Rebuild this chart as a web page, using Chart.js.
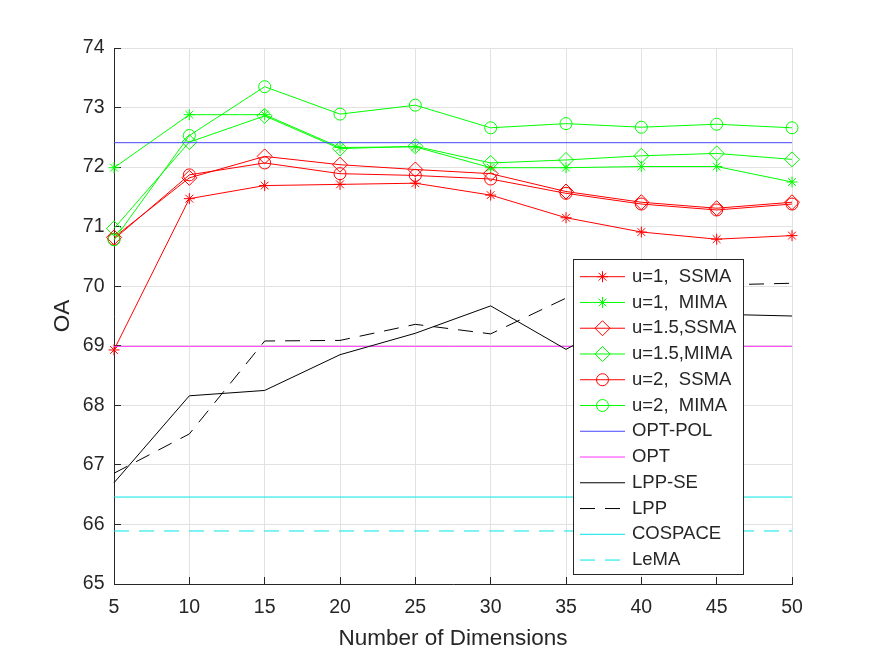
<!DOCTYPE html>
<html>
<head>
<meta charset="utf-8">
<title>OA vs Number of Dimensions</title>
<script src="https://cdn.jsdelivr.net/npm/chart.js@4.4.1/dist/chart.umd.min.js"></script>
<style>
    body { margin: 0; background: white; }
    canvas { display: block; }
</style>
</head>
<body>
<canvas id="oaChart" width="875" height="657"></canvas>
<script>
// values
const dims = [5, 10, 15, 20, 25, 30, 35, 40, 45, 50]

const u1Ssma  = [68.93, 71.47, 71.69, 71.71, 71.73, 71.53, 71.15, 70.91, 70.79, 70.85]
const u1Mima  = [71.99, 72.88, 72.88, 72.33, 72.34, 71.99, 71.99, 72.01, 72.01, 71.75]
const u15Ssma = [70.82, 71.82, 72.18, 72.04, 71.96, 71.89, 71.59, 71.41, 71.31, 71.41]
const u15Mima = [70.97, 72.42, 72.86, 72.31, 72.35, 72.07, 72.12, 72.19, 72.23, 72.13]
const u2Ssma  = [70.79, 71.87, 72.07, 71.89, 71.86, 71.80, 71.56, 71.38, 71.28, 71.38]
const u2Mima  = [70.78, 72.53, 73.35, 72.89, 73.04, 72.66, 72.73, 72.67, 72.72, 72.66]
const optPol  = [72.41, 72.41, 72.41, 72.41, 72.41, 72.41, 72.41, 72.41, 72.41, 72.41]
const opt     = [68.99, 68.99, 68.99, 68.99, 68.99, 68.99, 68.99, 68.99, 68.99, 68.99]
const lppSe   = [66.70, 68.16, 68.25, 68.85, 69.21, 69.67, 68.94, 69.62, 69.53, 69.50]
const lpp     = [66.86, 67.52, 69.08, 69.09, 69.36, 69.20, 69.80, 69.96, 70.02, 70.05]
const cospace = [66.46, 66.46, 66.46, 66.46, 66.46, 66.46, 66.46, 66.46, 66.46, 66.46]
const lema    = [65.89, 65.89, 65.89, 65.89, 65.89, 65.89, 65.89, 65.89, 65.89, 65.89]

const yMin = 65
const yMax = 74

window.addEventListener("load", (event) => {

    var ctx = document.getElementById('oaChart')

    const axisColor = '#262626'
    const gridColor = '#e2e2e2'
    Chart.defaults.font.family = '"Liberation Sans", Arial, Helvetica, sans-serif'
    Chart.defaults.color = axisColor

    const toPoints = (vals) => vals.map((v, i) => ({ x: dims[i], y: v }))

    function series(label, vals, color, marker, radius, dash) {
        return {
            label: label,
            data: toPoints(vals),
            borderColor: color,
            borderWidth: 1,
            borderDash: dash || [],
            pointStyle: marker || 'circle',
            pointRadius: radius || 0,
            pointBorderColor: color,
            pointBackgroundColor: 'rgba(0, 0, 0, 0)',
            pointBorderWidth: 1,
            fill: false,
            tension: 0,
            clip: false
        }
    }

    const datasets = [
        series('u=1,  SSMA', u1Ssma, '#ff0000', 'star', 5.5),
        series('u=1,  MIMA', u1Mima, '#00ff00', 'star', 5.5),
        series('u=1.5,SSMA', u15Ssma, '#ff0000', 'rectRot', 7.5),
        series('u=1.5,MIMA', u15Mima, '#00ff00', 'rectRot', 7.5),
        series('u=2,  SSMA', u2Ssma, '#ff0000', 'circle', 6),
        series('u=2,  MIMA', u2Mima, '#00ff00', 'circle', 6),
        series('OPT-POL', optPol, '#4646ff'),
        series('OPT', opt, '#ff33ff'),
        series('LPP-SE', lppSe, '#000000'),
        series('LPP', lpp, '#000000', null, 0, [15, 10]),
        series('COSPACE', cospace, '#00e5e5'),
        series('LeMA', lema, '#00e5e5', null, 0, [15, 10])
    ]
    // later entries drawn on top, like the original plot
    datasets.forEach((ds, i) => { ds.order = datasets.length - i })

    //Legend box drawn over the lines
    const legendLayout = { left: 573, top: 259, width: 170, height: 315, firstRow: 276.7, rowStep: 25.76, lineX1: 580, lineX2: 625, textX: 632 }

    const boxedLegend = {
        id: 'boxedLegend',
        afterDatasetsDraw(chart) {
            const c = chart.ctx
            const L = legendLayout
            c.save()
            c.fillStyle = 'white'
            c.fillRect(L.left, L.top, L.width, L.height)
            c.strokeStyle = axisColor
            c.lineWidth = 1
            c.strokeRect(L.left + 0.5, L.top + 0.5, L.width, L.height)
            datasets.forEach((ds, i) => {
                const y = L.firstRow + i * L.rowStep
                c.strokeStyle = ds.borderColor
                c.lineWidth = 1
                c.setLineDash(ds.borderDash)
                c.beginPath()
                c.moveTo(L.lineX1, y)
                c.lineTo(L.lineX2, y)
                c.stroke()
                c.setLineDash([])
                if (ds.pointRadius > 0) {
                    c.fillStyle = 'rgba(0, 0, 0, 0)'
                    Chart.helpers.drawPoint(c, { pointStyle: ds.pointStyle, radius: ds.pointRadius, borderWidth: 1, rotation: 0 }, (L.lineX1 + L.lineX2) / 2, y)
                }
                c.fillStyle = axisColor
                c.font = '18.5px "Liberation Sans", Arial, sans-serif'
                c.textBaseline = 'middle'
                c.textAlign = 'left'
                c.fillText(ds.label, L.textX, y)
            })
            c.restore()
        }
    }

    new Chart(ctx, {
        type: 'line',
        data: {
            datasets: datasets
        },
        options: {
            responsive: false,
            animation: false,
            events: [],
            layout: {
                padding: { left: 0, top: 48, right: 83, bottom: 0 }
            },
            plugins: {
                legend: { display: false },
                tooltip: { enabled: false }
            },
            scales: {
                x: {
                    type: 'linear',
                    min: dims[0],
                    max: dims[dims.length - 1],
                    afterFit: (scale) => { scale.height = 73 },
                    ticks: {
                        stepSize: 5,
                        padding: 18.5,
                        color: axisColor,
                        font: { size: 19.5 }
                    },
                    grid: {
                        color: gridColor,
                        tickLength: -7,
                        tickColor: axisColor
                    },
                    border: { color: axisColor, width: 1 },
                    title: {
                        display: true,
                        text: 'Number of Dimensions',
                        color: axisColor,
                        font: { size: 22.5 },
                        padding: { top: 0, bottom: 4.8 }
                    }
                },
                y: {
                    min: yMin,
                    max: yMax,
                    afterFit: (scale) => { scale.width = 114 },
                    ticks: {
                        stepSize: 1,
                        padding: 16.5,
                        color: axisColor,
                        font: { size: 19.5 }
                    },
                    grid: {
                        color: gridColor,
                        tickLength: -7,
                        tickColor: axisColor
                    },
                    border: { color: axisColor, width: 1 },
                    title: {
                        display: true,
                        text: 'OA',
                        color: axisColor,
                        font: { size: 22.5 },
                        padding: { top: 49.5, bottom: 0 }
                    }
                }
            }
        },
        plugins: [boxedLegend]
    })
});
</script>
</body>
</html>
